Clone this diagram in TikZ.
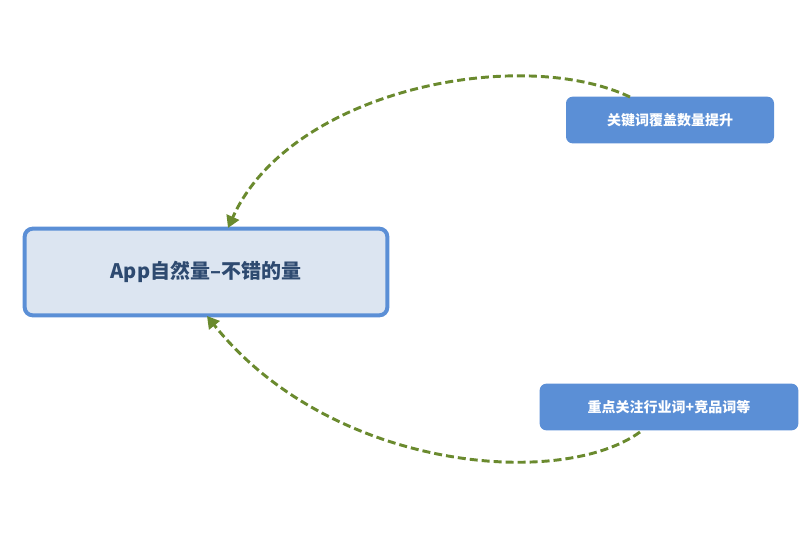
\documentclass[tikz,border=0pt]{standalone}
\usepackage{fontspec}
\setmainfont{Noto Sans CJK SC}
\usetikzlibrary{arrows.meta}
\definecolor{bblue}{HTML}{5B8FD6}
\definecolor{lfill}{HTML}{DCE5F1}
\definecolor{dtext}{HTML}{2E4A70}
\definecolor{olive}{HTML}{6A8A2E}
\tikzset{
  mainbox/.style={draw=bblue,line width=3pt,fill=lfill,rounded corners=6pt,minimum width=272pt,minimum height=65pt,text=dtext,font=\fontsize{15}{18}\selectfont\bfseries},
  subbox/.style={fill=bblue,rounded corners=5pt,text=white,minimum height=35pt,font=\fontsize{10.5}{13}\selectfont\bfseries},
  link/.style={olive,line width=2.2pt,dashed,dash pattern=on 6pt off 3pt,-{Triangle[length=9pt,width=10pt]}}
}
\begin{document}
\begin{tikzpicture}[x=0.75pt,y=-0.75pt]
\useasboundingbox (0,0) rectangle (810,540);
\node[mainbox] (m) at (206,272) {App自然量--不错的量};
\node[subbox,minimum width=156pt] (a) at (670,120) {关键词覆盖数量提升};
\node[subbox,minimum width=194pt] (b) at (669,407) {重点关注行业词+竞品词等};
\coordinate (ta) at (228,228);
\coordinate (tb) at (207,316);
\draw[link] (630,97) .. controls (520,45) and (290,90) .. (ta);
\draw[link] (640,432) .. controls (560,490) and (330,470) .. (tb);
\end{tikzpicture}
\end{document}
